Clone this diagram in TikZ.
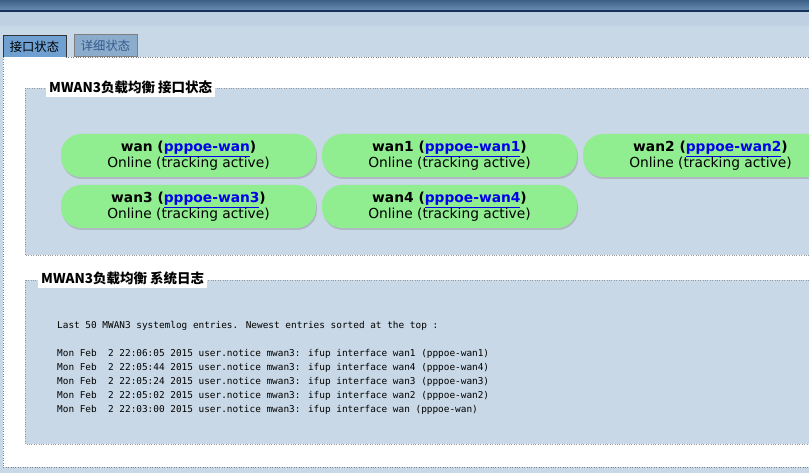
\documentclass[tikz,border=0pt]{standalone}
\usepackage{fontspec}
\setmainfont{DejaVu Sans}
\newfontfamily\cjk{Noto Sans CJK SC}
\newfontfamily\mono{DejaVu Sans Mono}
\usetikzlibrary{shadows}
\definecolor{bg}{HTML}{C8D8E6}
\definecolor{pill}{HTML}{90EE90}
\definecolor{lnk}{HTML}{0000EE}
\definecolor{bantop}{RGB}{60,95,135}
\definecolor{banbot}{RGB}{110,145,180}
\definecolor{banline}{RGB}{20,50,90}
\definecolor{band}{RGB}{190,208,226}
\definecolor{tabon}{RGB}{110,160,210}
\definecolor{taboff}{RGB}{140,172,204}
\definecolor{taboffT}{RGB}{50,90,140}
\tikzset{
 pillbox/.style={fill=pill,rounded corners=20pt,drop shadow={shadow xshift=1pt,shadow yshift=-2pt,opacity=.35}},
 fs/.style={fill=bg,draw=gray!80,dotted},
 legend/.style={fill=white,inner sep=3pt,anchor=west,font=\cjk\bfseries\fontsize{13.5}{15}\selectfont},
 l1/.style={font=\bfseries\fontsize{13.8}{15}\selectfont},
 l2/.style={font=\fontsize{13.8}{15}\selectfont},
 logt/.style={anchor=west,inner sep=0,font=\mono\fontsize{9.4}{11}\selectfont}
}
\newcommand{\lk}[1]{\textcolor{lnk}{\underline{#1}}}
\begin{document}
\begin{tikzpicture}[x=1pt,y=-1pt]
\useasboundingbox (0,0) rectangle (809,473);
\fill[bg] (0,0) rectangle (809,473);
\shade[top color=bantop,bottom color=banbot] (0,0) rectangle (809,11);
\fill[banline] (0,10) rectangle (809,12.5);
\fill[band] (0,12.5) rectangle (809,26);
% tabs
\node[draw=black!80,fill=tabon,minimum width=63pt,minimum height=22pt,inner sep=0,font=\cjk\fontsize{12.3}{13}\selectfont] (t1) at (34.5,46.5) {接口状态};
\node[draw=gray,fill=taboff,text=taboffT,minimum width=63pt,minimum height=22pt,inner sep=0,font=\cjk\fontsize{12.3}{13}\selectfont] (t2) at (105.5,45.5) {详细状态};
% main panel
\fill[white] (3,57) rectangle (809,467);
\draw[gray,dotted] (66,57) -- (809,57) (3,57) -- (3,467) -- (809,467);
% fieldset 1
\draw[fs] (25,88) rectangle (812,255);
\node[legend] (lg1) at (46,87) {MWAN3负载均衡 接口状态};
\foreach \x/\y/\n/\m [count=\i] in {61/134/wan/pppoe-wan,322/134/wan1/pppoe-wan1,583/134/wan2/pppoe-wan2,61/185/wan3/pppoe-wan3,322/185/wan4/pppoe-wan4}{
 \fill[pillbox] (\x,\y) rectangle ++(255,43);
 \node[l1] (p\i a) at (\x+127.5,\y+15) {\n\ (\lk{\m})};
 \node[l2] (p\i b) at (\x+127.5,\y+29.5) {Online (tracking active)};
}
% fieldset 2
\draw[fs] (25,280) rectangle (812,444);
\node[legend] (lg2) at (38,278) {MWAN3负载均衡 系统日志};
\node[logt] (h) at (57,326) {Last 50 MWAN3 systemlog entries. Newest entries sorted at the top :};
\foreach \y/\t [count=\i] in {354/{22:06:05 2015 user.notice mwan3: ifup interface wan1 (pppoe-wan1)},
 368/{22:05:44 2015 user.notice mwan3: ifup interface wan4 (pppoe-wan4)},
 382/{22:05:24 2015 user.notice mwan3: ifup interface wan3 (pppoe-wan3)},
 396/{22:05:02 2015 user.notice mwan3: ifup interface wan2 (pppoe-wan2)},
 410/{22:03:00 2015 user.notice mwan3: ifup interface wan (pppoe-wan)}}{
 \node[logt] (r\i) at (57,\y) {Mon Feb\ \ 2 \t};
}
\end{tikzpicture}
\end{document}
